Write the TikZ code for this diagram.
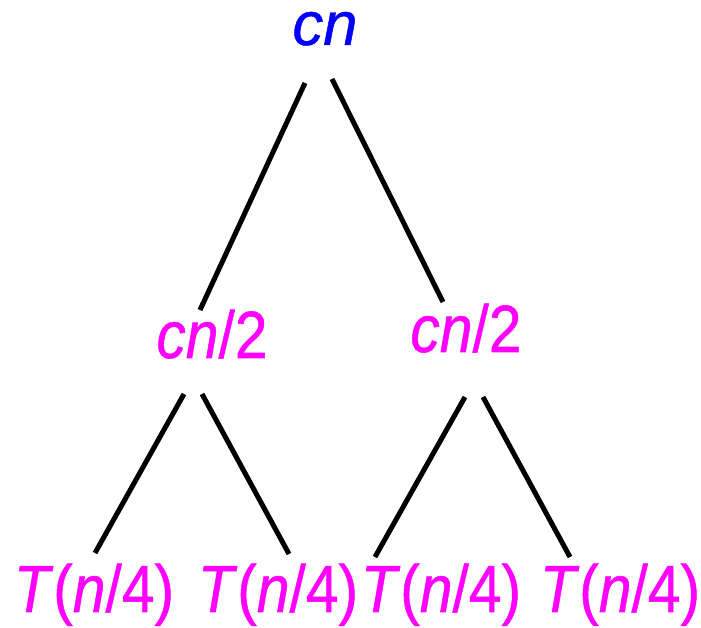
\documentclass[tikz,border=0pt]{standalone}
\usepackage{fontspec}
\setmainfont{Liberation Sans}[UprightFeatures={FakeBold=0.8}, ItalicFeatures={FakeBold=0.8}]
\usepackage{xcolor}
\usepackage{tikz}
\usetikzlibrary{positioning}

\definecolor{rootblue}{RGB}{0,0,255}
\definecolor{levelpink}{RGB}{255,0,255}

\begin{document}
\begin{tikzpicture}[x=0.02cm, y=-0.02cm,
		branch/.style={line width=2.85pt},
		rootcost/.style={inner sep=0pt, anchor=base, text=rootblue, text height=0.6em, text depth=0pt, font=\fontsize{35}{40}\selectfont},
		levelcost/.style={inner sep=0pt, anchor=base, text=levelpink, xscale=0.88, font=\fontsize{38}{44}\selectfont}]
		\useasboundingbox (0,0) rectangle (701,628);

		% Root of the recursion tree
		\node[rootcost] (root) at (325,45) {\textit{cn}};

		% Second level
		\node[levelcost] (left) at (212,358) {\textit{cn}/2};
		\node[levelcost] (right) at (466,352) {\textit{cn}/2};

		% Leaves
		\node[levelcost] (leafA) at (94,612) {\textit{T}(\textit{n}/4)};
		\node[levelcost] (leafB) at (278,612) {\textit{T}(\textit{n}/4)};
		\node[levelcost] (leafC) at (441,612) {\textit{T}(\textit{n}/4)};
		\node[levelcost] (leafD) at (620,612) {\textit{T}(\textit{n}/4)};

		% Branches
		\draw[branch] ([shift={(-20,38)}]root.base) -- ([shift={(-12,-48)}]left.base);
		\draw[branch] ([shift={(7,34)}]root.base) -- ([shift={(-23,-50)}]right.base);
		\draw[branch] ([shift={(-28,36)}]left.base) -- ([shift={(1,-59)}]leafA.base);
		\draw[branch] ([shift={(-10,36)}]left.base) -- ([shift={(11,-58)}]leafB.base);
		\draw[branch] ([shift={(-1,45)}]right.base) -- ([shift={(-66,-55)}]leafC.base);
		\draw[branch] ([shift={(17,45)}]right.base) -- ([shift={(-50,-55)}]leafD.base);
	\end{tikzpicture}
\end{document}
